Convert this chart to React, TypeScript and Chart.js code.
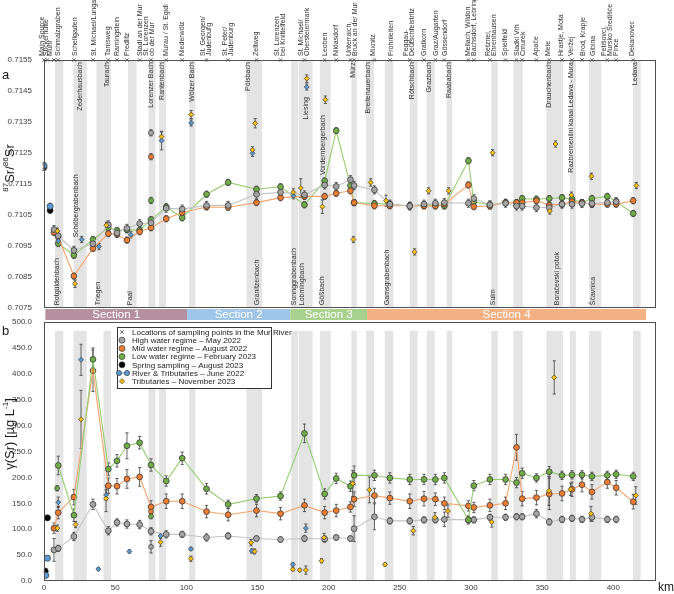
import { useEffect, useRef } from "react";
import { Chart, registerables } from "chart.js";

Chart.register(...registerables);

const FONT = "'Liberation Sans', Arial, Helvetica, sans-serif";

// river km of every Mur sampling site (from the main source)
const SITE_KM = [0, 2.5, 7, 10, 21, 34.4, 45.2, 51.3, 58.3, 67.2, 75.2, 85.9, 97.1, 114.2, 129.4, 149.3, 166.2, 183, 197.2, 205.3, 215.3, 217.9, 232.2, 243, 257, 267, 275, 281.3, 298.2, 302, 313.3, 324.3, 332, 336, 346, 355, 364, 371, 378, 385, 395.8, 402, 414];

// site names printed above panel a: [name, km]
const SITE_NAMES: [string, number][] = [
  ["Main Source", -1.5], ["Stickerhütte", 1.5], ["Muhr", 4.5], ["Schmalzgraben", 10],
  ["Schellgaden", 21.5], ["St. Michael/Lungau", 34.9], ["Tamsweg", 45.2], ["Ramingstein", 51.3],
  ["Predlitz", 58.5], ["Stadl an der Mur", 67.5], ["St. Lorenzen\nob der Mur", 73.5], ["Murau / St. Egidi", 85.5],
  ["Niederwölz", 97.3], ["St. Georgen/\nJudenburg", 114.2], ["St. Peter/\nJudenburg", 129.4], ["Zeltweg", 149.3],
  ["St. Lorenzen\nbei Knittelfeld", 166.2], ["St. Michael/\nObersteiermark", 183], ["Leoben", 197.5], ["Niklasdorf", 205],
  ["Unterraich,\nBruck an der Mur", 216.8], ["Mixnitz", 231.4], ["Frohnleiten", 243.8], ["Peggau-\nDeutschfeistritz", 256.3],
  ["Gratkorn", 267], ["Graz/Augarten", 275.4], ["Gössendorf", 281.7], ["Mellach, Wildon\nBachsdorf, Lebring", 300.4],
  ["Retznei,\nEhrenhausen", 313.8], ["Spielfeld", 324.3], ["Sladki Vrh\nCmurek", 334.3], ["Apače", 346],
  ["Mele", 354.2], ["Hrastje, Mota", 363], ["Veržej", 370.6], ["Brod, Krapje", 378.7], ["Gibina", 385.8],
  ["Petišovci,\nMursko Središće\nPince", 397.5], ["Dekanovec", 413],
];

// tributary names inside panel a: [name, km, anchored end, 87Sr/86Sr position of that end]
const TOP_END = 0.71543;
const BOTTOM_END = 0.70759;
const TRIB_NAMES: [string, number, "top" | "bottom", number][] = [
  ["Zederhausbach", 25.6, "top", TOP_END], ["Taurach", 44.2, "top", TOP_END], ["Lorenzer Bach", 75.4, "top", TOP_END],
  ["Rantenbach", 83, "top", TOP_END], ["Wölzer Bach", 104, "top", TOP_END], ["Pölsbach", 143.7, "top", TOP_END],
  ["Liesing", 184, "top", 0.7143], ["Vordernbergerbach", 196, "top", 0.71372], ["Mürz", 216.9, "top", TOP_END],
  ["Breitenauerbach", 227.6, "top", TOP_END], ["Rötschbach", 258.5, "top", TOP_END], ["Grazbach", 270.5, "top", TOP_END],
  ["Raababach", 284.3, "top", TOP_END], ["Drauchenbach", 354.7, "top", TOP_END],
  ["Razbremenilni kanal Ledava - Mura", 370.6, "top", TOP_END], ["Ledava", 415, "top", TOP_END],
  ["Rotgüldenbach", 9.4, "bottom", BOTTOM_END], ["Schöbergrabenbach", 22.7, "bottom", 0.70978],
  ["Triegen", 38.2, "bottom", BOTTOM_END], ["Paal", 60.6, "bottom", BOTTOM_END], ["Granitzenbach", 150, "bottom", BOTTOM_END],
  ["Sonnggrabenbach", 175.7, "bottom", BOTTOM_END], ["Lobmingbach", 181.1, "bottom", BOTTOM_END],
  ["Gößbach", 195.6, "bottom", BOTTOM_END], ["Gamsgrabenbach", 240.8, "bottom", BOTTOM_END], ["Sulm", 315.6, "bottom", BOTTOM_END],
  ["Boračevski potok", 360.5, "bottom", BOTTOM_END], ["Ščavnica", 385.8, "bottom", BOTTOM_END],
];

// tributary confluences (km ranges), shaded in both panels
const BANDS: [number, number][] = [
  [7.7, 13.6], [20.7, 30], [41.8, 47], [73.5, 78.4], [80.8, 85.7], [102, 106.3], [142.2, 153.3], [173.7, 178.4],
  [178.9, 188.7], [193.9, 201.4], [216, 219.7], [226.3, 231.9], [239.4, 245.5], [257, 262.5], [269, 274.4],
  [282.9, 286.8], [314.3, 318.8], [329.8, 336.4], [353, 364.6], [369.5, 373.7], [383, 391.5], [413.9, 419.2],
];
const BANDS_A_ONLY: [number, number][] = [[36.8, 41.8], [59, 65]];
const BAND_TOP_B = 483;

const SECTIONS: [string, number, number, string][] = [
  ["Section 1", 1, 100.5, "#b5919f"],
  ["Section 2", 100.5, 173, "#9fc5e8"],
  ["Section 3", 173, 227, "#a9d18e"],
  ["Section 4", 227, 423, "#f4b183"],
];

const KM_TICKS = [0, 50, 100, 150, 200, 250, 300, 350, 400];

// ---- panel a: 87Sr/86Sr at the river sites ----
const MAY22_A = [null, null, 0.71003, 0.70983, 0.70936, 0.70957, 0.71018, 0.70992, 0.71007, 0.71022, 0.71025, 0.71072, 0.71069, 0.71081, 0.71081, 0.71117, 0.71123, 0.71115, 0.71147, 0.71142, 0.71164, 0.71145, 0.71131, 0.71085, 0.71079, 0.71085, 0.71088, 0.7109, 0.71088, 0.71103, 0.71083, 0.71088, 0.71079, 0.71079, 0.71074, 0.71074, 0.71085, 0.71085, 0.71087, 0.71087, 0.7109, 0.71093, null];
const AUG22_A = [null, null, 0.70994, 0.7098, 0.70853, 0.70942, 0.7099, 0.70988, 0.70969, 0.70996, 0.71009, 0.71038, 0.71058, 0.71076, 0.71075, 0.7109, 0.71106, 0.7111, 0.7111, 0.7112, 0.71128, 0.7109, 0.7108, 0.7108, 0.7108, 0.71079, 0.71079, 0.71085, 0.71147, 0.71077, 0.71079, 0.7109, 0.7109, 0.7109, 0.71096, 0.71082, 0.71085, 0.71093, 0.7109, 0.71085, 0.71085, 0.71085, 0.71096];
const FEB23_A = [null, null, null, 0.70958, 0.7092, 0.70971, 0.71009, 0.71, 0.71002, 0.71001, 0.71035, 0.71076, 0.71041, 0.71117, 0.71155, 0.71133, 0.71141, 0.71083, 0.7116, 0.71322, 0.71145, 0.7109, 0.71087, 0.71085, 0.71079, 0.71082, 0.71082, 0.71079, 0.71225, 0.71093, 0.71083, 0.7109, 0.7109, 0.71103, 0.71101, 0.71103, 0.71106, 0.71101, 0.7109, 0.71103, 0.7111, 0.71093, 0.71055];
const ERR_MAY22_A = 0.00013;
const ERR_AUG22_A = 0.0001;
const ERR_FEB23_A = 0.0001;

// [km, value, uncertainty]
const NOV23_TRIB_A = [[9.4, 0.70998, 0.0001], [21.8, 0.70828, 0.00012], [43.8, 0.71017, 0.0001], [82.6, 0.71303, 0.00015], [103.4, 0.71374, 0.00013], [146.5, 0.7126, 0.0001], [148.4, 0.71346, 0.00015], [175.2, 0.71123, 0.00012], [180.4, 0.71137, 0.0003], [184.6, 0.7149, 0.00012], [195.6, 0.71077, 0.00022], [197.7, 0.71422, 0.00012], [217.4, 0.70971, 0.0001], [229.5, 0.71155, 0.00012], [240.3, 0.71096, 0.00018], [260.4, 0.70931, 0.0001], [270.2, 0.71128, 0.0001], [284.3, 0.71128, 0.0001], [315.2, 0.71251, 0.0001], [355.4, 0.71063, 0.0001], [359.4, 0.71279, 0.0001], [370.6, 0.71114, 0.0001], [384.6, 0.71175, 0.0001], [416.2, 0.71145, 0.0001]];
const JUN22_TRIB_A = [[10, 0.70966, 0.0001], [26.5, 0.70971, 0.0001], [38.6, 0.70948, 0.0001], [61, 0.70986, 0.0001], [82.6, 0.7129, 0.0003], [103.4, 0.71347, 0.0001], [146.5, 0.71249, 0.0001], [175.2, 0.71112, 0.0001], [184.6, 0.71463, 0.0001]];
const JUN22_RIVER_A = [[0, 0.71209, 0.0001], [4.3, 0.71078, 0.0001]];
const AUG23_SPRING_A = [[0, 0.71204, 0.0001], [4.3, 0.71065, 0.0001]];
const MAY22_TRIB_A = [[75.2, 0.71315, 0.0001]];
const AUG22_TRIB_A = [[75.2, 0.71238, 0.0001]];
const FEB23_TRIB_A = [[75.2, 0.71097, 0.0001]];

// ---- panel b: Sr mass concentration (µg/L) at the river sites ----
const MAY22_B = [null, null, 60, 63, 86, 148, 97, 113, 110, 109, 96, 90, 90, 84, 87, 82, 80, 82, 81, 84, 82, 101, 124, 116, 116, 118, 118, 119, 118, 118, 123, 123, 124, 124, 130, 114, 119, 121, 119, 123, 119, 119, null];
const AUG22_B = [null, null, 102, 132, 162, 406, 184, 183, 197, 201, 143, 154, 154, 134, 128, 136, 130, 146, 132, 136, 143, 158, 165, 160, 154, 159, 158, 150, 145, 142, 146, 150, 258, 159, 161, 168, 169, 177, 186, 172, 191, 180, 153];
const FEB23_B = [null, null, null, 223, 127, 428, 216, 232, 261, 267, 224, 193, 237, 178, 148, 159, 164, 285, 168, 198, 183, 204, 204, 199, 196, 196, 196, 199, 118, 184, 196, 196, 190, 208, 199, 211, 204, 205, 205, 202, 204, 206, 202];
const ERR_MAY22_B = [0, 0, 22, 6, 8, 10, 8, 7, 8, 8, 7, 7, 6, 7, 6, 5, 5, 6, 6, 5, 5, 25, 25, 6, 6, 6, 6, 14, 6, 6, 6, 6, 6, 6, 8, 6, 6, 6, 6, 8, 6, 6, 0];
const ERR_AUG22_B = [0, 0, 10, 12, 15, 40, 15, 15, 18, 18, 12, 14, 14, 12, 12, 12, 12, 12, 12, 12, 10, 14, 14, 12, 14, 14, 12, 12, 10, 10, 12, 12, 25, 14, 14, 30, 14, 14, 14, 14, 12, 14, 14];
const ERR_FEB23_B = [0, 0, 0, 18, 12, 22, 12, 12, 25, 12, 12, 10, 12, 10, 8, 8, 8, 18, 10, 10, 10, 18, 10, 10, 10, 10, 10, 10, 8, 10, 10, 10, 10, 10, 8, 10, 8, 8, 8, 8, 8, 8, 8];

const NOV23_TRIB_B = [[9.4, 102, 6], [22.2, 109, 6], [26, 312, 56], [43.6, 159, 25], [81.9, 75, 8], [103.2, 43, 5], [145.5, 74, 6], [148, 57, 5], [174.8, 22.5, 3], [179.7, 21, 3], [184, 21, 8], [195, 39, 4], [196.8, 84, 8], [216.9, 188, 25], [228.6, 176, 25], [239.6, 32, 3], [259.5, 97, 8], [274.7, 123, 9], [283.8, 135, 12], [314.6, 114, 10], [354.8, 174, 28], [358.5, 393, 32], [370, 177, 12], [384.3, 130, 14], [415.8, 165, 17]];
const JUN22_TRIB_B = [[10, 152, 10], [26, 427, 30], [38.2, 23, 3], [43.6, 166, 10], [60, 57, 3], [81.9, 87, 4], [103.2, 62, 3], [146, 58, 4], [174.8, 32, 3], [184, 102, 8]];
const JUN22_RIVER_B = [[1.2, 11, 2], [2.4, 44, 2]];
const AUG23_SPRING_B = [[0.8, 19, 2], [2.4, 122, 3]];
const MAY22_TRIB_B = [[75.2, 66, 12]];
const AUG22_TRIB_B = [[75.2, 134, 8]];
const FEB23_TRIB_B = [[9.2, 179, 5], [75.2, 125, 5]];

const C_GRAY = "#a5a5a5";
const C_ORANGE = "#ed7d31";
const C_GREEN = "#70ad47";
const C_BLUE = "#5b9bd5";
const C_YELLOW = "#ffc000";
const C_BLACK = "#000000";
const L_GRAY = "#c4c4c4";
const L_ORANGE = "#f5a46e";
const L_GREEN = "#97cd72";
const EDGE = "#3a3a3a";
const BAND_COLOR = "#e4e4e4";
const TEXT = "#303030";

const LEGEND_ITEMS: [string, string][] = [
  ["cross", "Locations of sampling points in the Mur River"],
  ["gray", "High water regime – May 2022"],
  ["orange", "Mid water regime – August 2022"],
  ["green", "Low water regime – February 2023"],
  ["black", "Spring sampling – August 2023"],
  ["blue", "River & Tributaries – June 2022"],
  ["yellow", "Tributaries – November 2023"],
];

function series(vals: (number | null)[], errs: number[] | number, fill: string, line: string) {
  return {
    data: SITE_KM.map((km, i) => ({ x: km, y: vals[i], e: Array.isArray(errs) ? errs[i] : errs })).filter((p) => p.y !== null),
    showLine: true,
    borderColor: line,
    borderWidth: 1.1,
    pointBackgroundColor: fill,
    pointBorderColor: EDGE,
    pointBorderWidth: 0.8,
    pointRadius: 2.9,
    pointStyle: "circle",
  };
}

function loose(rows: number[][], fill: string, style: string, r: number) {
  return {
    data: rows.map(([x, y, e]) => ({ x, y, e })),
    showLine: false,
    pointBackgroundColor: fill,
    pointBorderColor: EDGE,
    pointBorderWidth: 0.7,
    pointRadius: r,
    pointStyle: style,
  };
}

function drawErrors(chart: any) {
  const { ctx, scales } = chart;
  const y = scales.y;
  ctx.save();
  ctx.strokeStyle = "#3c3c3c";
  ctx.lineWidth = 0.8;
  chart.data.datasets.forEach((ds: any, i: number) => {
    const meta = chart.getDatasetMeta(i);
    ds.data.forEach((p: any, j: number) => {
      if (!p || !p.e) return;
      const el = meta.data[j];
      if (!el) return;
      const yt = y.getPixelForValue(p.y + p.e);
      const yb = y.getPixelForValue(p.y - p.e);
      ctx.beginPath();
      ctx.moveTo(el.x, yt); ctx.lineTo(el.x, yb);
      ctx.moveTo(el.x - 1.6, yt); ctx.lineTo(el.x + 1.6, yt);
      ctx.moveTo(el.x - 1.6, yb); ctx.lineTo(el.x + 1.6, yb);
      ctx.stroke();
    });
  });
  ctx.restore();
}

function drawFrame(chart: any) {
  const { ctx, chartArea: ca } = chart;
  ctx.save();
  ctx.strokeStyle = "#505050";
  ctx.lineWidth = 1;
  ctx.strokeRect(Math.round(ca.left) + 0.5, Math.round(ca.top) + 0.5, Math.round(ca.right - ca.left) - 1, Math.round(ca.bottom - ca.top) - 1);
  ctx.restore();
}

// rotated axis title with superscript parts
function drawTitle(ctx: any, cx: number, cy: number, parts: [string, boolean][], size: number) {
  ctx.save();
  ctx.translate(cx, cy);
  ctx.rotate(-Math.PI / 2);
  ctx.fillStyle = "#1a1a1a";
  ctx.textAlign = "left";
  ctx.textBaseline = "alphabetic";
  let total = 0;
  for (const [t, sup] of parts) {
    ctx.font = `${sup ? size * 0.62 : size}px ${FONT}`;
    total += ctx.measureText(t).width;
  }
  let x0 = -total / 2;
  for (const [t, sup] of parts) {
    ctx.font = `${sup ? size * 0.62 : size}px ${FONT}`;
    ctx.fillText(t, x0, sup ? size * 0.35 - size * 0.42 : size * 0.35);
    x0 += ctx.measureText(t).width;
  }
  ctx.restore();
}

function drawCross(ctx: any, x: number, y: number, s: number) {
  ctx.beginPath();
  ctx.moveTo(x - s, y - s); ctx.lineTo(x + s, y + s);
  ctx.moveTo(x - s, y + s); ctx.lineTo(x + s, y - s);
  ctx.stroke();
}

function dot(ctx: any, x: number, y: number, r: number, fill: string, diamond = false) {
  ctx.beginPath();
  if (diamond) {
    ctx.moveTo(x, y - r); ctx.lineTo(x + r, y); ctx.lineTo(x, y + r); ctx.lineTo(x - r, y); ctx.closePath();
  } else {
    ctx.arc(x, y, r, 0, Math.PI * 2);
  }
  ctx.fillStyle = fill;
  ctx.fill();
  ctx.strokeStyle = EDGE;
  ctx.lineWidth = 0.7;
  ctx.stroke();
}

const panelA = {
  id: "panelA",
  beforeDatasetsDraw(chart: any) {
    const { ctx, chartArea: ca, scales } = chart;
    const { x, y } = scales;
    ctx.save();
    ctx.fillStyle = BAND_COLOR;
    for (const [a, b] of [...BANDS, ...BANDS_A_ONLY]) {
      const x0 = x.getPixelForValue(a);
      const x1 = x.getPixelForValue(b);
      ctx.fillRect(x0, ca.top + 1, x1 - x0, ca.bottom - ca.top - 1);
    }
    ctx.fillStyle = TEXT;
    ctx.font = `7px ${FONT}`;
    ctx.textBaseline = "middle";
    for (const [name, km, end, v] of TRIB_NAMES) {
      ctx.save();
      ctx.translate(x.getPixelForValue(km), y.getPixelForValue(v));
      ctx.rotate(-Math.PI / 2);
      ctx.textAlign = end === "top" ? "right" : "left";
      ctx.fillText(name, 0, 0);
      ctx.restore();
    }
    ctx.restore();
    drawErrors(chart);
  },
  afterDraw(chart: any) {
    const { ctx, chartArea: ca, scales } = chart;
    const { x } = scales;
    drawFrame(chart);
    ctx.save();
    // site names above the frame
    ctx.fillStyle = TEXT;
    ctx.font = `7px ${FONT}`;
    ctx.textBaseline = "middle";
    ctx.textAlign = "left";
    for (const [name, km] of SITE_NAMES) {
      const lines = name.split("\n");
      const px = x.getPixelForValue(km);
      lines.forEach((ln, i) => {
        const off = (i - (lines.length - 1) / 2) * 6;
        ctx.save();
        ctx.translate(px + off, ca.top - 4);
        ctx.rotate(-Math.PI / 2);
        ctx.fillText(ln, 0, 0);
        ctx.restore();
      });
    }
    // sampling site markers on the top edge
    ctx.strokeStyle = "#555";
    ctx.lineWidth = 0.9;
    for (const km of SITE_KM) drawCross(ctx, x.getPixelForValue(km), ca.top, 1.7);
    // river sections bar
    for (const [name, a, b, col] of SECTIONS) {
      const x0 = x.getPixelForValue(a);
      const x1 = x.getPixelForValue(b);
      ctx.fillStyle = col;
      ctx.fillRect(x0, ca.bottom + 1, x1 - x0, 11);
      ctx.fillStyle = "#ffffff";
      ctx.font = `11.5px ${FONT}`;
      ctx.textAlign = "center";
      ctx.textBaseline = "middle";
      ctx.fillText(name, (x0 + x1) / 2, ca.bottom + 7);
    }
    ctx.fillStyle = "#1a1a1a";
    ctx.font = `13px ${FONT}`;
    ctx.textAlign = "left";
    ctx.textBaseline = "alphabetic";
    ctx.fillText("a", 2, 79);
    ctx.restore();
    drawTitle(ctx, 9, 168, [["87", true], ["Sr/", false], ["86", true], ["Sr", false]], 13);
  },
};

const panelB = {
  id: "panelB",
  beforeDatasetsDraw(chart: any) {
    const { ctx, chartArea: ca, scales } = chart;
    const { x, y } = scales;
    ctx.save();
    ctx.fillStyle = BAND_COLOR;
    const top = y.getPixelForValue(BAND_TOP_B);
    for (const [a, b] of BANDS) {
      const x0 = x.getPixelForValue(a);
      const x1 = x.getPixelForValue(b);
      ctx.fillRect(x0, top, x1 - x0, ca.bottom - top - 1);
    }
    ctx.restore();
    drawErrors(chart);
  },
  afterDraw(chart: any) {
    const { ctx, chartArea: ca, scales } = chart;
    const { x } = scales;
    drawFrame(chart);
    ctx.save();
    // km tick labels under the frame
    ctx.fillStyle = "#404040";
    ctx.font = `8px ${FONT}`;
    ctx.textAlign = "center";
    ctx.textBaseline = "top";
    for (const v of KM_TICKS) ctx.fillText(String(v), x.getPixelForValue(v), ca.bottom + 3);
    // legend
    const lx = ca.left + 73;
    const ly = ca.top + 5;
    ctx.fillStyle = "#ffffff";
    ctx.fillRect(lx, ly, 154, 61);
    ctx.strokeStyle = "#333";
    ctx.lineWidth = 1;
    ctx.strokeRect(lx + 0.5, ly + 0.5, 154, 61);
    ctx.font = `8px ${FONT}`;
    ctx.textBaseline = "middle";
    ctx.textAlign = "left";
    LEGEND_ITEMS.forEach(([kind, label], i) => {
      const ry = ly + 5 + i * 8.2;
      const sx = lx + 5;
      if (kind === "cross") {
        ctx.strokeStyle = "#555";
        ctx.lineWidth = 0.9;
        drawCross(ctx, sx, ry, 1.8);
      } else if (kind === "blue") {
        ctx.strokeStyle = C_BLUE;
        ctx.lineWidth = 1;
        ctx.beginPath(); ctx.moveTo(sx - 3, ry); ctx.lineTo(sx + 5, ry); ctx.stroke();
        dot(ctx, sx - 3, ry, 2.6, C_BLUE);
        dot(ctx, sx + 5, ry, 2.6, C_BLUE);
      } else if (kind === "yellow") {
        dot(ctx, sx, ry, 2.6, C_YELLOW, true);
      } else {
        const fill = kind === "gray" ? C_GRAY : kind === "orange" ? C_ORANGE : kind === "green" ? C_GREEN : C_BLACK;
        dot(ctx, sx, ry, 3, fill);
      }
      ctx.fillStyle = "#222";
      ctx.fillText(label, lx + 15, ry + 0.5);
    });
    ctx.fillStyle = "#1a1a1a";
    ctx.font = `13px ${FONT}`;
    ctx.fillText("b", 2, 19);
    ctx.font = `12px ${FONT}`;
    ctx.textBaseline = "alphabetic";
    ctx.fillText("km", 658, 279);
    ctx.restore();
    drawTitle(ctx, 9, 122, [["γ(Sr) [µg L", false], ["-1", true], ["]", false]], 13);
  },
};

const tickFont = { family: FONT, size: 8 };

export default function App() {
  const refA = useRef<HTMLCanvasElement>(null);
  const refB = useRef<HTMLCanvasElement>(null);

  useEffect(() => {
    document.body.style.margin = "0";

    const chartA = new Chart(refA.current as HTMLCanvasElement, {
      type: "scatter",
      data: {
        datasets: [
          loose(NOV23_TRIB_A, C_YELLOW, "rectRot", 2.5),
          loose(JUN22_TRIB_A, C_BLUE, "rectRot", 2.5),
          loose(JUN22_RIVER_A, C_BLUE, "circle", 3.1),
          loose(AUG23_SPRING_A, C_BLACK, "circle", 3),
          loose(MAY22_TRIB_A, C_GRAY, "circle", 2.6),
          loose(AUG22_TRIB_A, C_ORANGE, "circle", 2.6),
          loose(FEB23_TRIB_A, C_GREEN, "circle", 2.6),
          series(MAY22_A, ERR_MAY22_A, C_GRAY, L_GRAY),
          series(AUG22_A, ERR_AUG22_A, C_ORANGE, L_ORANGE),
          series(FEB23_A, ERR_FEB23_A, C_GREEN, L_GREEN),
        ] as any,
      },
      options: {
        responsive: false,
        animation: false,
        layout: { padding: { top: 60, bottom: 13, left: 0, right: 18 } },
        plugins: { legend: { display: false }, tooltip: { enabled: false } },
        scales: {
          x: { type: "linear", min: 0, max: 430, display: false },
          y: {
            type: "linear",
            min: 0.7075,
            max: 0.7155,
            afterFit: (s: any) => { s.width = 44; },
            grid: { display: false },
            border: { display: false },
            ticks: { stepSize: 0.001, padding: 4, color: "#404040", font: tickFont, callback: (v: any) => Number(v).toFixed(4) },
          },
        },
      } as any,
      plugins: [panelA],
    });

    const chartB = new Chart(refB.current as HTMLCanvasElement, {
      type: "scatter",
      data: {
        datasets: [
          loose(NOV23_TRIB_B, C_YELLOW, "rectRot", 2.5),
          loose(JUN22_TRIB_B, C_BLUE, "rectRot", 2.5),
          loose(JUN22_RIVER_B, C_BLUE, "circle", 3.1),
          loose(AUG23_SPRING_B, C_BLACK, "circle", 3.1),
          loose(MAY22_TRIB_B, C_GRAY, "circle", 2.4),
          loose(AUG22_TRIB_B, C_ORANGE, "circle", 2.4),
          loose(FEB23_TRIB_B, C_GREEN, "circle", 2.4),
          series(FEB23_B, ERR_FEB23_B, C_GREEN, L_GREEN),
          series(AUG22_B, ERR_AUG22_B, C_ORANGE, L_ORANGE),
          series(MAY22_B, ERR_MAY22_B, C_GRAY, L_GRAY),
        ] as any,
      },
      options: {
        responsive: false,
        animation: false,
        layout: { padding: { top: 10, bottom: 13, left: 0, right: 18 } },
        plugins: { legend: { display: false }, tooltip: { enabled: false } },
        scales: {
          x: { type: "linear", min: 0, max: 430, display: false },
          y: {
            type: "linear",
            min: 0,
            max: 500,
            afterFit: (s: any) => { s.width = 44; },
            grid: { display: false },
            border: { display: false },
            ticks: { stepSize: 50, padding: 4, color: "#404040", font: tickFont, callback: (v: any) => Number(v).toFixed(1) },
          },
        },
      } as any,
      plugins: [panelB],
    });

    return () => {
      chartA.destroy();
      chartB.destroy();
    };
  }, []);

  return (
    <div style={{ position: "absolute", left: 0, top: 0, width: 674, height: 594, background: "#ffffff" }}>
      <canvas ref={refA} width={674} height={321} style={{ position: "absolute", left: 0, top: 0 }} />
      <canvas ref={refB} width={674} height={282} style={{ position: "absolute", left: 0, top: 312 }} />
    </div>
  );
}
